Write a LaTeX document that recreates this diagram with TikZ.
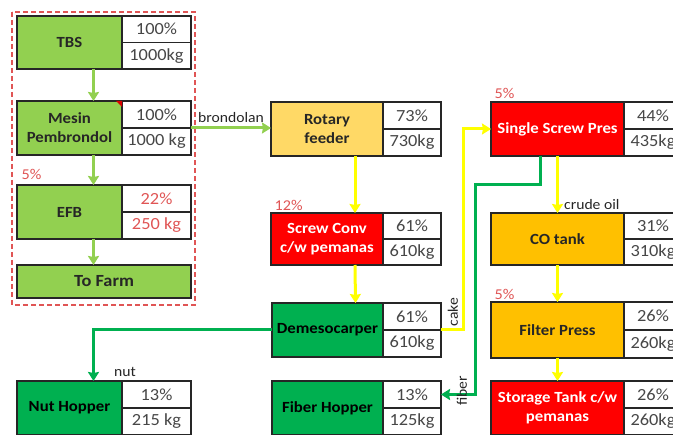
\documentclass[tikz,border=0pt]{standalone}
\usepackage{fontspec}
\setmainfont{Carlito}[FakeStretch=1.08]
\usetikzlibrary{arrows.meta, positioning}
\definecolor{lgreen}{HTML}{92D050}
\definecolor{dgreen}{HTML}{00B050}
\definecolor{lorange}{HTML}{FFD966}
\definecolor{amber}{HTML}{FFC000}
\definecolor{pred}{HTML}{FF0000}
\definecolor{pyellow}{HTML}{FFFF00}
\definecolor{ink}{HTML}{262626}
\definecolor{pcttxt}{HTML}{E05555}
\tikzstyle{unit} = [rectangle, draw=ink, line width=1.2pt, outer sep=0pt,
minimum width=105pt,
minimum height=54pt,
inner sep=1pt,
text centered, align=center,
font=\fontsize{15.5}{19}\selectfont\bfseries,
text=ink]
\tikzstyle{cell} = [rectangle, draw=ink, line width=1.2pt, outer sep=0pt,
minimum width=69pt,
minimum height=27pt,
inner sep=0pt,
font=\fontsize{17}{18}\selectfont,
text=ink!85]
\tikzstyle{lbl} = [inner sep=1.5pt, font=\fontsize{14.5}{15}\selectfont, text=ink]
\tikzstyle{pct} = [inner sep=1.5pt, font=\fontsize{15}{15}\selectfont, text=pcttxt]
\tikzstyle{garrow} = [line width=3pt,-{Stealth[length=9pt,width=11pt,inset=1pt]}, draw=lgreen]
\tikzstyle{darrow} = [line width=3pt,-{Stealth[length=9pt,width=11pt,inset=1pt]}, draw=dgreen]
\tikzstyle{yarrow} = [line width=3pt,-{Stealth[length=9pt,width=11pt,inset=1pt]}, draw=pyellow]

\begin{document}
\begin{tikzpicture}[x=1pt, y=-1pt]
        \useasboundingbox (0,0) rectangle (673,435);
        \fill[white] (0,0) rectangle (673,435);
        \clip (0,0) rectangle (673,435);
        % left column (inside the dashed frame)
        \node (tbs) [unit, fill=lgreen, anchor=north west, minimum height=53pt] at (17,16) {TBS};
        \node (tbsp) [cell, anchor=north west, minimum height=26.5pt] at (tbs.north east) {100\%};
        \node (tbsm) [cell, below=0pt of tbsp, minimum height=26.5pt] {1000kg};
        \node (mesin) [unit, fill=lgreen, anchor=north west] at (17,101) {Mesin\\Pembrondol};
        \node (mesinp) [cell, anchor=north west] at (mesin.north east) {100\%};
        \node (mesinm) [cell, below=0pt of mesinp] {1000 kg};
        \node (efb) [unit, fill=lgreen, anchor=north west] at (17,185) {EFB};
        \node (efbp) [cell, anchor=north west, text=pcttxt] at (efb.north east) {22\%};
        \node (efbm) [cell, below=0pt of efbp, text=pcttxt] {250 kg};
        \node (farm) [unit, fill=lgreen, anchor=north west, minimum width=174pt, minimum height=33pt,
          font=\fontsize{17}{19}\selectfont\bfseries] at (17,265) {To Farm};
        \node (nut) [unit, fill=dgreen, anchor=north west, text=black] at (17,381) {Nut Hopper};
        \node (nutp) [cell, anchor=north west] at (nut.north east) {13\%};
        \node (nutm) [cell, below=0pt of nutp] {215 kg};
        % middle column
        \node (rotary) [unit, fill=lorange, anchor=north west, minimum width=112pt] at (271,102) {Rotary\\feeder};
        \node (rotaryp) [cell, anchor=north west, minimum width=58pt] at (rotary.north east) {73\%};
        \node (rotarym) [cell, below=0pt of rotaryp, minimum width=58pt] {730kg};
        \node (screw) [unit, fill=pred, anchor=north west, minimum width=112pt, minimum height=52pt, text=white] at (271,213) {Screw Conv\\c/w pemanas};
        \node (screwp) [cell, anchor=north west, minimum width=58pt, minimum height=26pt] at (screw.north east) {61\%};
        \node (screwm) [cell, below=0pt of screwp, minimum width=58pt, minimum height=26pt] {610kg};
        \node (demes) [unit, fill=dgreen, anchor=north west, minimum width=111pt, text=black] at (272,303) {Demesocarper};
        \node (demesp) [cell, anchor=north west, minimum width=58pt] at (demes.north east) {61\%};
        \node (demesm) [cell, below=0pt of demesp, minimum width=58pt] {610kg};
        \node (fiber) [unit, fill=dgreen, anchor=north west, minimum width=111pt, text=black] at (272,381) {Fiber Hopper};
        \node (fiberp) [cell, anchor=north west, minimum width=58pt] at (fiber.north east) {13\%};
        \node (fiberm) [cell, below=0pt of fiberp, minimum width=58pt] {125kg};
        % right column
        \node (ssp) [unit, fill=pred, anchor=north west, minimum width=133pt, text=white] at (491,102) {Single Screw Pres};
        \node (sspp) [cell, anchor=north west, minimum width=58pt] at (ssp.north east) {44\%};
        \node (sspm) [cell, below=0pt of sspp, minimum width=58pt] {435kg};
        \node (co) [unit, fill=amber, anchor=north west, minimum width=133pt, minimum height=52pt] at (491,213) {CO tank};
        \node (cop) [cell, anchor=north west, minimum width=58pt, minimum height=26pt] at (co.north east) {31\%};
        \node (com) [cell, below=0pt of cop, minimum width=58pt, minimum height=26pt] {310kg};
        \node (filter) [unit, fill=amber, anchor=north west, minimum width=133pt, minimum height=56pt] at (491,302) {Filter Press};
        \node (filterp) [cell, anchor=north west, minimum width=58pt, minimum height=28pt] at (filter.north east) {26\%};
        \node (filterm) [cell, below=0pt of filterp, minimum width=58pt, minimum height=28pt] {260kg};
        \node (storage) [unit, fill=pred, anchor=north west, minimum width=133pt, text=white] at (491,381) {Storage Tank c/w\\pemanas};
        \node (storagep) [cell, anchor=north west, minimum width=58pt] at (storage.north east) {26\%};
        \node (storagem) [cell, below=0pt of storagep, minimum width=58pt] {260kg};
        % comment mark and dashed frame
        \fill[pred!85!black] (mesin.north east) -- ++(-6,0) -- ++(6,6) -- cycle;
        \draw[pcttxt, line width=1.2pt, dash pattern=on 5pt off 3pt] (12,12) rectangle (195,305);
        % losses
        \node (efbloss) [pct, anchor=south west] at ([xshift=3pt,yshift=4pt]efb.north west) {5\%};
        \node (screwloss) [pct, anchor=south west] at ([xshift=2pt,yshift=1pt]screw.north west) {12\%};
        \node (ssploss) [pct, anchor=south west] at ([xshift=2pt,yshift=2pt]ssp.north west) {5\%};
        \node (filterloss) [pct, anchor=south west] at ([xshift=2pt,yshift=1pt]filter.north west) {5\%};
        % connectors
        \draw [garrow] ([xshift=24pt]tbs.south) -- ([xshift=24pt]mesin.north);
        \draw [garrow] ([xshift=24pt]mesin.south) -- ([xshift=24pt]efb.north);
        \draw [garrow] ([xshift=24pt]efb.south) -- ([xshift=24pt]efb.south |- farm.north);
        \draw [garrow] (mesinp.south east) -- (mesinp.south east -| rotary.west)
          node [lbl, midway, above, yshift=2pt] (brondolan) {brondolan};
        \draw [yarrow] ([xshift=28pt]rotary.south) -- ([xshift=28pt]screw.north);
        \draw [yarrow] ([xshift=28pt]screw.south) -- ([xshift=28pt]demes.north);
        \draw [darrow] (demes.west) -| ([xshift=24pt]nut.north);
        \node (nutlbl) [lbl, anchor=south] at ([xshift=3pt,yshift=3pt]nutp.north west) {nut};
        \draw [yarrow] (demesp.south east) -- ++(22,0) |- (ssp.west);
        \node (cake) [lbl, rotate=90] at ([xshift=12pt,yshift=-9pt]demesp.north east) {cake};
        \draw [darrow] ([xshift=-17pt]ssp.south) -- ++(0,29) -- ++(-65,0) |- (fiberp.east);
        \node (fiberlbl) [lbl, rotate=90] at ([xshift=21pt,yshift=-10pt]fiberp.north east) {fiber};
        \draw [yarrow] (ssp.south) -- (co.north);
        \node (crude) [lbl, anchor=south west] at ([xshift=5pt,yshift=2pt]co.north) {crude oil};
        \draw [yarrow] (co.south) -- (filter.north);
        \draw [yarrow] (filter.south) -- (storage.north);
\end{tikzpicture}
\end{document}
